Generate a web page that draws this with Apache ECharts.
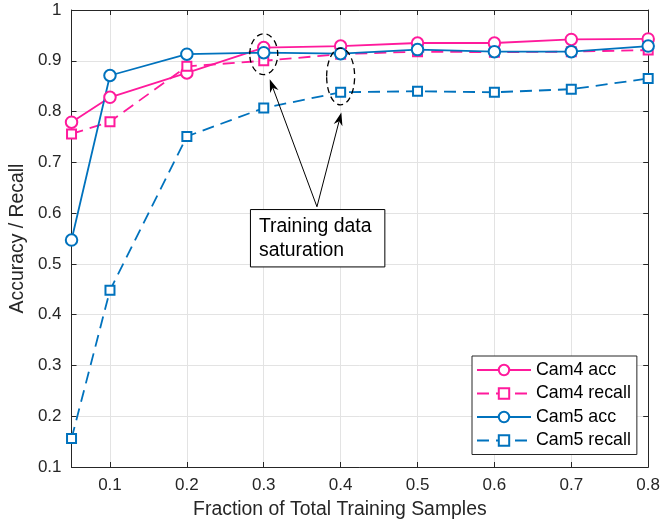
<!DOCTYPE html>
<html><head><meta charset="utf-8">
<script src="https://cdn.jsdelivr.net/npm/echarts@6/dist/echarts.min.js"></script>
<style>html,body{margin:0;padding:0;background:#fff}#c{width:663px;height:524px}</style>
</head><body><div id="c"></div>
<script>
const fractions = [0.05, 0.1, 0.2, 0.3, 0.4, 0.5, 0.6, 0.7, 0.8];
const cam4Acc = [0.779, 0.828, 0.876, 0.926, 0.929, 0.935, 0.935, 0.942, 0.943];
const cam4Recall = [0.756, 0.780, 0.889, 0.900, 0.913, 0.918, 0.917, 0.918, 0.921];
const cam5Acc = [0.547, 0.871, 0.913, 0.916, 0.914, 0.922, 0.918, 0.918, 0.929];
const cam5Recall = [0.156, 0.448, 0.751, 0.807, 0.838, 0.840, 0.838, 0.844, 0.865];
const xTicks = [0.1, 0.2, 0.3, 0.4, 0.5, 0.6, 0.7, 0.8];
const seriesNames = ['Cam4 acc', 'Cam4 recall', 'Cam5 acc', 'Cam5 recall'];
const annotationText = 'Training data\nsaturation';

const FONT = '"Liberation Sans", Arial, Helvetica, sans-serif';
const AX = '#262626';
const MAG = '#FF1A9C';
const BLU = '#0072BD';
const GRIDC = '#e3e3e3';

function pairs(ys) { return fractions.map((x, i) => [x, ys[i]]); }

function mkSeries(name, ys, color, dashed, symbol, size) {
  return {
    name, type: 'line', data: pairs(ys),
    symbol, symbolSize: size, showSymbol: true,
    lineStyle: { color, width: 1.8, type: dashed ? [12, 7] : 'solid' },
    itemStyle: { color, borderColor: color, borderWidth: 1.8 },
    emphasis: { disabled: true }, animation: false
  };
}

const chart = echarts.init(document.getElementById('c'), null, { renderer: 'canvas' });
const baseAxisLabel = { fontSize: 17, color: AX, fontFamily: FONT };
chart.setOption({
  animation: false,
  backgroundColor: '#fff',
  grid: { left: 71, right: 12, top: 10, bottom: 55, containLabel: false },
  xAxis: [{
    type: 'value', min: 0.05, max: 0.8, position: 'bottom',
    axisLine: { show: true, lineStyle: { color: AX, width: 1 } },
    axisTick: { show: true, inside: true, length: 5, customValues: xTicks, lineStyle: { color: AX } },
    axisLabel: Object.assign({ customValues: xTicks, margin: 10 }, baseAxisLabel),
    splitLine: { show: true, lineStyle: { color: GRIDC, width: 1 } },
    name: 'Fraction of Total Training Samples', nameLocation: 'middle', nameGap: 33,
    nameTextStyle: { fontSize: 19.4, color: AX, fontFamily: FONT, padding: [0, 40, 0, 0] }
  }, {
    type: 'value', min: 0.05, max: 0.8, position: 'top',
    axisLine: { show: true, lineStyle: { color: AX, width: 1 } },
    axisTick: { show: true, inside: true, length: 5, customValues: xTicks, lineStyle: { color: AX } },
    axisLabel: { show: false }, splitLine: { show: false }
  }],
  yAxis: [{
    type: 'value', min: 0.1, max: 1, interval: 0.1, position: 'left',
    axisLine: { show: true, lineStyle: { color: AX, width: 1 } },
    axisTick: { show: true, inside: true, length: 5, lineStyle: { color: AX } },
    axisLabel: Object.assign({ margin: 10 }, baseAxisLabel),
    splitLine: { show: true, lineStyle: { color: GRIDC, width: 1 } },
    name: 'Accuracy / Recall', nameLocation: 'middle', nameGap: 40, nameRotate: 90,
    nameTextStyle: { fontSize: 19.4, color: AX, fontFamily: FONT }
  }, {
    type: 'value', min: 0.1, max: 1, interval: 0.1, position: 'right',
    axisLine: { show: true, lineStyle: { color: AX, width: 1 } },
    axisTick: { show: true, inside: true, length: 5, lineStyle: { color: AX } },
    axisLabel: { show: false }, splitLine: { show: false }
  }],
  legend: {
    orient: 'vertical', left: 472, top: 356,
    itemWidth: 54, itemHeight: 13, itemGap: 3.5,
    padding: [4, 6, 4, 4],
    borderColor: AX, borderWidth: 1, backgroundColor: '#fff',
    textStyle: { fontSize: 17.8, color: '#000', fontFamily: FONT, lineHeight: 20 },
    data: seriesNames, selectedMode: false
  },
  series: [
    mkSeries(seriesNames[0], cam4Acc, MAG, false, 'emptyCircle', 11.5),
    mkSeries(seriesNames[1], cam4Recall, MAG, true, 'emptyRect', 9),
    mkSeries(seriesNames[2], cam5Acc, BLU, false, 'emptyCircle', 11.5),
    mkSeries(seriesNames[3], cam5Recall, BLU, true, 'emptyRect', 9)
  ]
});

function px(x, y) { return chart.convertToPixel({ xAxisIndex: 0, yAxisIndex: 0 }, [x, y]); }

function arrow(p1, p2) {
  const dx = p2[0] - p1[0], dy = p2[1] - p1[1];
  const L = Math.hypot(dx, dy), ux = dx / L, uy = dy / L;
  const nx = -uy, ny = ux;
  const hl = 13, hw = 4.5, notch = 9;
  const bx = p2[0] - ux * hl, by = p2[1] - uy * hl;
  const mx = p2[0] - ux * notch, my = p2[1] - uy * notch;
  return [
    { type: 'line', shape: { x1: p1[0], y1: p1[1], x2: mx, y2: my }, style: { stroke: '#000', lineWidth: 1 }, silent: true, z: 100 },
    { type: 'polygon', shape: { points: [[p2[0], p2[1]], [bx + nx * hw, by + ny * hw], [mx, my], [bx - nx * hw, by - ny * hw]] }, style: { fill: '#000' }, silent: true, z: 100 }
  ];
}

function ellipse(cx, cy, hx, hy) {
  const c = px(cx, cy), e = px(cx + hx, cy + hy);
  return { type: 'ellipse', shape: { cx: c[0], cy: c[1], rx: Math.abs(e[0] - c[0]), ry: Math.abs(c[1] - e[1]) },
    style: { fill: null, stroke: '#000', lineWidth: 1.3, lineDash: [6, 4] }, silent: true, z: 100 };
}

const boxTL = px(0.2827, 0.607), boxBR = px(0.4575, 0.494);
const start = px(0.3692, 0.6125);
const tip1 = px(0.3078, 0.8635), tip2 = px(0.4009, 0.798);
const els = [
  ellipse(0.3, 0.913, 0.0182, 0.0402),
  ellipse(0.4, 0.869, 0.0182, 0.0559),
  ...arrow(start, tip1), ...arrow(start, tip2),
  { type: 'rect', shape: { x: boxTL[0], y: boxTL[1], width: boxBR[0] - boxTL[0], height: boxBR[1] - boxTL[1] },
    style: { fill: '#fff', stroke: '#000', lineWidth: 1 }, silent: true, z: 101 },
  { type: 'text', x: boxTL[0] + 8.5, y: (boxTL[1] + boxBR[1]) / 2,
    style: { text: annotationText, font: '19.4px ' + FONT, fill: '#000', lineHeight: 24, verticalAlign: 'middle', align: 'left' },
    silent: true, z: 102 }
];
chart.setOption({ graphic: els });
</script></body></html>
